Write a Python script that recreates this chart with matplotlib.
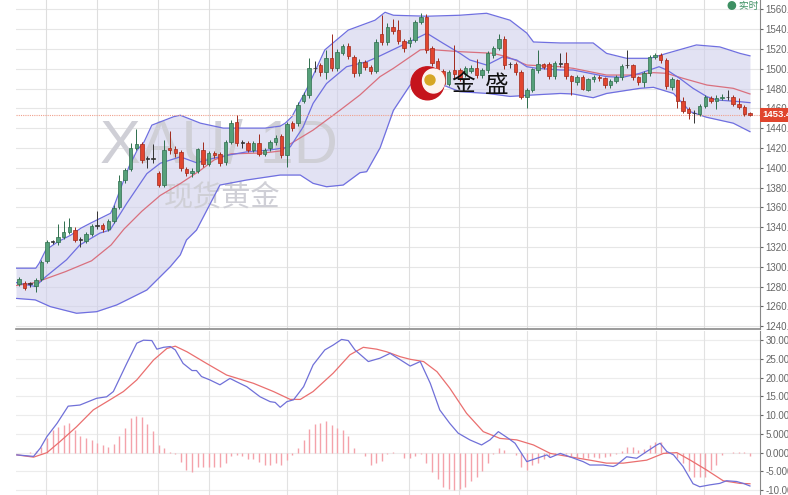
import numpy as np
import matplotlib.pyplot as plt
from matplotlib.patches import Ellipse
import matplotlib.transforms as mtransforms

plt.rcParams['font.family'] = ['Liberation Sans', 'Noto Sans CJK SC']

# daily candles (oldest first)
opens = [1283, 1284, 1283, 1281, 1288, 1306, 1325, 1324.5, 1330, 1335,
         1337, 1327, 1326, 1333, 1341, 1342, 1338.5, 1346, 1360, 1388,
         1399, 1420, 1423.5, 1409, 1409, 1395, 1383, 1420, 1419, 1415.5,
         1398.5, 1394.5, 1397, 1418, 1404, 1415, 1414, 1405.5, 1426, 1446,
         1425, 1424.5, 1418, 1425, 1414, 1419.5, 1425.5, 1432, 1413, 1445,
         1445, 1467.5, 1473.5, 1500.5, 1503.5, 1496.5, 1510.5, 1500.5, 1516, 1523,
         1511.5, 1495.5, 1507, 1502, 1498, 1535, 1527, 1542.5, 1539, 1527.5,
         1525.5, 1529, 1547.5, 1552.5, 1520.5, 1508, 1498, 1485, 1498.5, 1498.5,
         1494.5, 1498, 1501, 1493.5, 1498.5, 1514, 1521, 1530.5, 1504.5, 1505,
         1497, 1471.5, 1478, 1498.5, 1504.5, 1504.5, 1492.5, 1505, 1505.5, 1492.5,
         1486.5, 1492, 1479, 1489.5, 1492, 1490.5, 1483.5, 1488, 1491.5, 1503.5,
         1503.5, 1491.5, 1487, 1495.5, 1512, 1514, 1509, 1482, 1488.5, 1467.5,
         1459, 1455, 1454.5, 1462.5, 1470, 1467.5, 1470, 1471, 1471, 1464,
         1461, 1455]
highs = [1290, 1286, 1285, 1289, 1307, 1327, 1327, 1343, 1346, 1349,
         1340, 1330, 1335, 1343, 1356, 1344, 1348, 1362, 1393, 1400,
         1425, 1439, 1426, 1412, 1424, 1397, 1428, 1437, 1422, 1418,
         1401, 1400, 1420, 1426, 1417, 1417, 1416, 1428, 1448, 1453,
         1428, 1427, 1427, 1434, 1420, 1428, 1433, 1434, 1446, 1447,
         1466, 1476, 1510.5, 1508, 1506, 1519, 1535, 1520, 1525, 1526,
         1514, 1510, 1509, 1504, 1530, 1554, 1546, 1550, 1549, 1530,
         1532, 1549, 1556, 1555, 1523, 1511, 1500, 1499, 1524, 1501,
         1503, 1504, 1510, 1501, 1518, 1523, 1535, 1533, 1507, 1507,
         1499, 1481, 1501, 1519, 1506, 1507, 1508, 1515.5, 1517, 1494,
         1494, 1494, 1491, 1494, 1494, 1492, 1490, 1494, 1505, 1519,
         1505, 1493, 1498, 1514, 1516, 1516, 1511, 1492, 1490, 1471,
         1461, 1458, 1464, 1473, 1472, 1473, 1474, 1479, 1473, 1470,
         1463, 1456]
lows = [1281, 1276, 1280, 1274, 1286, 1304, 1323, 1322, 1328, 1333,
        1325, 1320, 1324, 1331, 1338, 1335, 1336, 1344, 1358, 1385,
        1397, 1418, 1405, 1400, 1405, 1381, 1381, 1414, 1411, 1397,
        1392, 1391, 1395, 1401, 1402, 1410, 1402, 1403, 1424, 1422,
        1420, 1416, 1416, 1412, 1412, 1417, 1423, 1410, 1401, 1437,
        1442, 1465, 1470, 1497, 1493, 1490, 1498, 1498, 1514, 1510,
        1492, 1493, 1499, 1495, 1496, 1524, 1524, 1535, 1525, 1517,
        1522, 1527, 1545, 1516, 1503, 1496, 1483, 1483, 1491, 1488,
        1492, 1496, 1491, 1491, 1496, 1511, 1519, 1500, 1501, 1494,
        1469, 1460, 1476, 1496, 1500, 1490, 1490, 1502, 1490, 1473.5,
        1484, 1478, 1477, 1487, 1488, 1481, 1481, 1486, 1489, 1501,
        1489, 1484, 1482, 1493, 1510, 1506, 1480, 1479, 1460, 1455,
        1449, 1445, 1452, 1460, 1465, 1459, 1468, 1468, 1462, 1459,
        1452, 1452]
closes = [1288, 1279, 1283, 1287, 1305, 1325, 1325, 1330, 1335, 1340,
          1327, 1327, 1333, 1341, 1341, 1338, 1346, 1359.5, 1387, 1398,
          1419.5, 1423.5, 1408, 1409, 1409, 1383, 1418, 1418, 1414.5, 1399.5,
          1394.5, 1397, 1418.5, 1403.5, 1414.5, 1413, 1405, 1426, 1445.5, 1424.5,
          1425, 1418, 1424.5, 1414, 1418, 1425.5, 1430.5, 1413, 1444, 1440.5,
          1463.5, 1473.5, 1500.5, 1500.5, 1496.5, 1510.5, 1500.5, 1517, 1523, 1513,
          1495.5, 1507, 1502, 1498, 1527, 1527, 1542.5, 1538.5, 1527.5, 1520.5,
          1529, 1547.5, 1552.5, 1519, 1506, 1499, 1485, 1497, 1494.5, 1490.5,
          1500.5, 1501, 1493.5, 1498.5, 1516, 1521, 1530.5, 1503.5, 1504.5, 1497,
          1471.5, 1478.5, 1499.5, 1504.5, 1502, 1492.5, 1505.5, 1505, 1492.5, 1488,
          1492, 1480, 1489.5, 1491.5, 1490.5, 1483.5, 1487.5, 1492, 1503, 1503.5,
          1491.5, 1487, 1495.5, 1512, 1514, 1509, 1482.5, 1489.5, 1467.5, 1457.5,
          1455, 1455, 1462.5, 1471, 1467.5, 1470.5, 1471.5, 1471, 1464, 1461.5,
          1454.5, 1453.5]
last_price = 1453.45

# bollinger bands / moving averages, sampled along the chart (candle index, price)
upper_idx = [-0.5, 3.0, 3.6, 4.8, 6.9, 9.3, 11.1, 12.8, 14.6, 16.4, 17.0, 18.2, 19.7, 21.2, 22.4,
             23.8, 27.7, 28.9, 32.5, 36.6, 40.8, 44.1, 46.8, 47.7, 48.9, 51.8, 54.8, 59.0, 63.8,
             65.6, 67.1, 73.1, 79.0, 83.8, 88.0, 91.0, 92.2, 97.0, 102.9, 105.3, 108.9, 113.1,
             116.1, 121.4, 125.6, 129.2, 131.0]
upper_val = [1298.5, 1298.5, 1303.5, 1317, 1325, 1332, 1339, 1344, 1349, 1354, 1361, 1379, 1401,
             1418, 1426, 1443, 1451.5, 1453, 1445, 1440, 1440, 1440, 1442, 1445, 1451.5, 1482,
             1519, 1539, 1549, 1557, 1554, 1553, 1554, 1556, 1549, 1536, 1527, 1526, 1526,
             1515.5, 1510.5, 1510.5, 1515.5, 1524, 1522, 1515.5, 1513]
lower_idx = [-0.5, 2.9, 5.6, 10.3, 13.9, 17.5, 19.3, 22.9, 27.1, 28.9, 30.0, 31.8, 36.0, 40.8,
             46.8, 50.4, 52.7, 55.1, 58.1, 61.1, 62.3, 64.7, 67.1, 70.1, 73.1, 76.0, 79.0, 84.0,
             88.0, 92.2, 97.0, 99.3, 102.9, 105.3, 111.3, 113.7, 117.3, 120.3, 123.2, 128.0, 131.0]
lower_val = [1268, 1266.5, 1259.7, 1253, 1254.6, 1261.4, 1266.4, 1276.5, 1300, 1312, 1327, 1337,
             1382.5, 1387.6, 1392.6, 1392.6, 1384.2, 1380.8, 1382.5, 1395, 1396, 1420, 1458,
             1483.5, 1490.3, 1483.5, 1476.8, 1475, 1472, 1473.5, 1475, 1474.5, 1470.7, 1475,
             1480.2, 1481.2, 1475, 1456.6, 1451, 1445, 1436.4]
mid_idx = [-0.5, 2.9, 8.3, 13.0, 16.5, 18.8, 22.0, 25.3, 28.9, 32.4, 35.0, 38.0, 44.0, 47.0,
           48.6, 52.7, 57.5, 61.1, 64.7, 67.1, 71.9, 73.1, 79.0, 84.9, 87.5, 91.0, 97.0, 99.3,
           105.3, 110.0, 113.7, 116.0, 119.0, 123.3, 128.0, 131.0]
mid_val = [1281, 1284, 1295, 1306, 1322, 1338, 1356, 1372, 1384, 1397, 1408, 1414, 1415, 1417,
           1424, 1438, 1458, 1473.5, 1492, 1500.4, 1519, 1519.6, 1517.2, 1515.6, 1512, 1503.7,
           1502, 1500.4, 1493.6, 1493.6, 1496, 1495.4, 1490.3, 1483.5, 1480.2, 1474.5]
ma_idx = [-0.5, 2.9, 4.8, 8.5, 10.9, 14.5, 16.3, 19.3, 22.9, 25.3, 28.9, 31.8, 34.8, 37.8, 40.8,
          45.0, 48.6, 50.9, 52.7, 55.1, 58.7, 62.3, 64.7, 68.8, 73.1, 76.0, 79.0, 80.8, 83.8,
          86.7, 89.2, 91.0, 92.8, 97.0, 99.3, 105.3, 108.2, 111.3, 114.7, 116.1, 118.4, 120.8,
          123.3, 125.1, 129.2, 131.0]
ma_val = [1284, 1280, 1290, 1307, 1322, 1334, 1337, 1364, 1394, 1404.5, 1411, 1405, 1409.5,
          1413, 1416, 1418, 1421, 1441, 1465, 1485, 1502, 1507, 1513, 1524, 1535.8, 1525.7,
          1515.6, 1508.8, 1503.7, 1512, 1508.8, 1502, 1500.4, 1498.7, 1498.7, 1492, 1491.3,
          1495.4, 1502, 1498.7, 1490.3, 1480.2, 1471.7, 1468.4, 1466.7, 1465.7]

# MACD panel
dif_idx = [-0.4, 2.6, 3.8, 5.0, 6.8, 8.8, 10.9, 13.9, 15.7, 16.9, 19.3, 21.1, 22.3, 23.8, 24.7,
           25.9, 27.1, 28.0, 29.4, 31.0, 31.8, 32.7, 34.2, 36.0, 37.8, 39.0, 40.8, 43.2, 45.0,
           45.9, 46.8, 48.0, 49.2, 51.0, 52.7, 54.8, 56.3, 57.8, 59.0, 60.2, 62.6, 64.7, 66.5,
           70.1, 71.9, 73.7, 75.4, 77.2, 78.7, 80.8, 82.9, 84.4, 85.9, 87.7, 88.9, 91.0, 92.8,
           94.6, 95.2, 97.0, 98.7, 101.1, 102.3, 104.7, 106.5, 107.1, 108.9, 110.7, 112.5,
           114.3, 114.9, 116.1, 117.3, 119.0, 120.8, 122.0, 123.8, 125.6, 126.8, 128.6, 129.8, 131.0]
dif_val = [-0.6, -1.0, 1.2, 4.3, 7.8, 12.4, 12.7, 14.5, 14.9, 16.3, 23.8, 29.2, 30.0, 29.9, 27.6,
           28.1, 28.3, 27.4, 23.8, 21.9, 21.9, 20.3, 19.4, 18.1, 19.8, 18.9, 17.6, 14.9, 13.6,
           13.4, 12.1, 13.6, 14.1, 17.6, 23.4, 27.4, 28.7, 30.2, 29.9, 27.4, 24.3, 25.2, 26.5,
           23.1, 24.3, 18.5, 11.4, 7.8, 5.2, 3.4, 2.05, 3.4, 5.6, 3.8, 2.5, -2.4, -1.5,
           -0.6, -1.3, -0.2, -1.1, -2.4, -3.3, -3.3, -3.7, -3.3, -1.1, -1.5, 0.3,
           2.05, 2.5, 0.3, -0.6, -3.7, -8.3, -9.1, -8.6, -8.2, -7.5, -7.7, -8.2, -8.9]
dea_idx = [-0.4, 2.6, 5.0, 7.3, 10.3, 13.3, 16.3, 18.7, 21.1, 24.1, 26.5, 28.0, 30.1, 33.6, 37.2,
           42.0, 45.6, 48.6, 50.4, 52.7, 56.3, 59.3, 61.7, 64.1, 65.9, 68.3, 70.1, 72.5, 74.9,
           77.2, 80.2, 83.2, 86.2, 89.2, 92.2, 95.2, 98.7, 102.3, 105.3, 108.3, 112.5, 115.5,
           117.9, 120.3, 123.2, 126.2, 129.2, 131.0]
dea_val = [-0.6, -1.2, 0.0, 2.9, 6.9, 11.4, 14.1, 16.3, 19.4, 24.7, 27.8, 28.4, 26.9, 23.8, 20.7,
           18.5, 16.3, 14.2, 14.2, 16.3, 21.2, 26.1, 28.1, 27.6, 26.9, 25.6, 24.9, 24.3, 21.6,
           17.2, 10.5, 5.6, 3.8, 3.4, 2.05, -0.2, -1.1, -2.0, -2.8, -2.8, -2.0, -0.2,
           0.0, -2.0, -4.6, -7.5, -8.2, -8.3]
hist = [-0.2, -0.1, 0.1, 0.5, 1.6, 3.8, 6.0, 6.9, 7.4, 8.0,
        6.0, 4.4, 3.8, 3.4, 2.7, 2.0, 1.6, 2.3, 4.4, 6.5,
        9.2, 9.8, 9.4, 7.6, 5.9, 2.0, 1.2, 0.3, -0.4, -2.4,
        -4.6, -5.1, -3.9, -3.7, -3.9, -3.7, -3.7, -2.7, -0.9, -0.6,
        -0.9, -1.8, -1.8, -2.4, -3.3, -3.3, -2.8, -3.3, -2.0, -0.6,
        1.2, 3.4, 6.2, 7.6, 8.0, 8.5, 7.4, 6.5, 6.0, 4.4,
        1.2, 0.0, -0.9, -3.3, -2.7, -2.1, -0.4, 0.2, -0.1, -1.5,
        -1.5, -0.9, -0.3, -2.7, -5.1, -7.1, -9.1, -9.8, -10.0, -9.8,
        -9.1, -7.5, -6.4, -4.8, -2.7, -0.4, 1.2, 0.7, 0.0, -0.6,
        -3.7, -4.6, -3.3, -2.8, -1.8, -1.1, -0.4, -0.2, -0.4, -0.9,
        -1.2, -1.5, -1.5, -1.2, -1.5, -1.2, -0.9, -0.4, 0.5, 1.6,
        1.4, 0.7, 0.9, 2.0, 2.9, 2.9, 0.5, -0.4, -1.5, -2.7,
        -4.8, -6.4, -6.4, -6.4, -4.6, -3.3, -0.6, -0.2, 0.1, 0.3,
        0.1, -0.9]

price_ticks = list(range(1240, 1561, 20))
macd_ticks = [-10, -5, 0, 5, 10, 15, 20, 25, 30]

GREEN, GREEN_EDGE = '#56a07a', '#2e6e4c'
RED, RED_EDGE = '#e2452f', '#a02a1c'
BAND = '#6f6fe0'

fig = plt.figure(figsize=(7.88, 4.95), dpi=100)
ax = fig.add_axes([16 / 788, 1 - 329 / 495, 744 / 788, 329 / 495])
mx = fig.add_axes([16 / 788, 0, 744 / 788, 164 / 495])

n = len(closes)
xs = np.arange(n)
xlim = (-0.55, 132.8)
vgrid = [4.84, 13.9, 24.9, 34.1, 48.0, 57.0, 69.9, 78.9, 91.0, 99.8, 114.2, 122.8]

# ---- price panel
ax.set_xlim(*xlim)
ax.set_ylim(1237.1, 1569.4)
for v in price_ticks:
    ax.axhline(v, color='#e6e6e6', lw=0.8, zorder=0)
for v in vgrid:
    ax.axvline(v, color='#dedede', lw=0.8, zorder=0)

band_x = np.linspace(-0.55, n - 1, 400)
ax.fill_between(band_x, np.interp(band_x, lower_idx, lower_val),
                np.interp(band_x, upper_idx, upper_val), color='#cfcfec', alpha=0.6,
                lw=0, zorder=1)

ax.text(84 / 744, 1 - 163 / 329, 'XAU/ 1D', transform=ax.transAxes, fontsize=44,
        color='#cfcfd6', zorder=1.5, family='Liberation Sans')
ax.text(206 / 744, 1 - 197 / 329, '现货黄金', transform=ax.transAxes, fontsize=21,
        color='#cfcfd6', zorder=1.5, ha='center', va='center', family=['Noto Sans CJK SC'])

ax.plot(upper_idx, upper_val, color=BAND, lw=0.9, zorder=2)
ax.plot(lower_idx, lower_val, color=BAND, lw=0.9, zorder=2)
ax.plot(mid_idx, mid_val, color='#d9707e', lw=0.9, zorder=2)
ax.plot(ma_idx, ma_val, color=BAND, lw=0.9, zorder=2)

ax.axhline(last_price, color='#f0a08c', lw=0.8, ls=(0, (1, 1)), zorder=2.5)

for i in xs:
    o, h, l, c = opens[i], highs[i], lows[i], closes[i]
    if c > o:
        fc, ec = GREEN, GREEN_EDGE
    elif c < o:
        fc, ec = RED, RED_EDGE
    else:
        fc, ec = '#333333', '#333333'
    ax.vlines(i, l, h, color=ec, lw=0.7, zorder=3)
    ax.bar(i, max(abs(c - o), 0.7), bottom=min(o, c), width=0.62, color=fc,
           edgecolor=ec, lw=0.5, zorder=4)

ax.yaxis.tick_right()
ax.set_yticks(price_ticks)
ax.set_yticklabels([f'{v:.2f}' for v in price_ticks])
ax.set_xticks([])
ax.tick_params(axis='y', labelsize=7, colors='#666666', length=2.5, pad=1.5)
for s in ['left', 'top']:
    ax.spines[s].set_visible(False)
ax.spines['right'].set_color('#888888')
ax.spines['bottom'].set_color('#8a8a8a')
ax.spines['bottom'].set_linewidth(1.2)

trans = mtransforms.blended_transform_factory(ax.transAxes, ax.transData)
ax.text(1.003, last_price, f'{last_price:.2f}', transform=trans, fontsize=6.8, color='white',
        va='center', ha='left', fontweight='bold',
        bbox=dict(boxstyle='square,pad=0.25', fc='#e0452e', ec='none'), zorder=6, clip_on=False)

fig.text(0.962, 0.988, '● 实时', fontsize=7, color='#3d8f62', ha='right', va='center',
         family=['Noto Sans CJK SC', 'DejaVu Sans'])

# logo
fig.add_artist(Ellipse((427.5 / 788, 1 - 83.3 / 495), 33 / 788, 33 / 495, color='#c5141c',
                       transform=fig.transFigure, zorder=10))
fig.add_artist(Ellipse((433.5 / 788, 1 - 81 / 495), 22 / 788, 24 / 495, color='#fdf3f0',
                       transform=fig.transFigure, zorder=10))
fig.add_artist(Ellipse((430 / 788, 1 - 80 / 495), 10 / 788, 10 / 495, color='#d7a625',
                       transform=fig.transFigure, zorder=11))
fig.text(463 / 788, 1 - 85 / 495, '金', fontsize=17, color='#111111', ha='center', va='center',
         family=['Noto Sans CJK SC'], zorder=11)
fig.text(497 / 788, 1 - 85 / 495, '盛', fontsize=17, color='#111111', ha='center', va='center',
         family=['Noto Sans CJK SC'], zorder=11)

# ---- MACD panel
mx.set_xlim(*xlim)
mx.set_ylim(-11.3, 32.45)
for v in macd_ticks:
    mx.axhline(v, color='#ececec', lw=0.8, zorder=0)
for v in vgrid:
    mx.axvline(v, color='#e2e2e2', lw=0.8, zorder=0)
mx.vlines(xs, 0, hist, color='#f4a2aa', lw=1.0, zorder=1)
mx.plot(dea_idx, dea_val, color='#ea6f6f', lw=0.9, zorder=2)
mx.plot(dif_idx, dif_val, color='#7070d8', lw=0.9, zorder=3)

mx.yaxis.tick_right()
mx.set_yticks(macd_ticks)
mx.set_yticklabels([f'{v:.4f}' for v in macd_ticks])
mx.set_xticks([])
mx.tick_params(axis='y', labelsize=7, colors='#666666', length=2.5, pad=1.5)
for s in ['left', 'bottom', 'top']:
    mx.spines[s].set_visible(False)
mx.spines['right'].set_color('#888888')

fig.savefig('out.png', dpi=100)
